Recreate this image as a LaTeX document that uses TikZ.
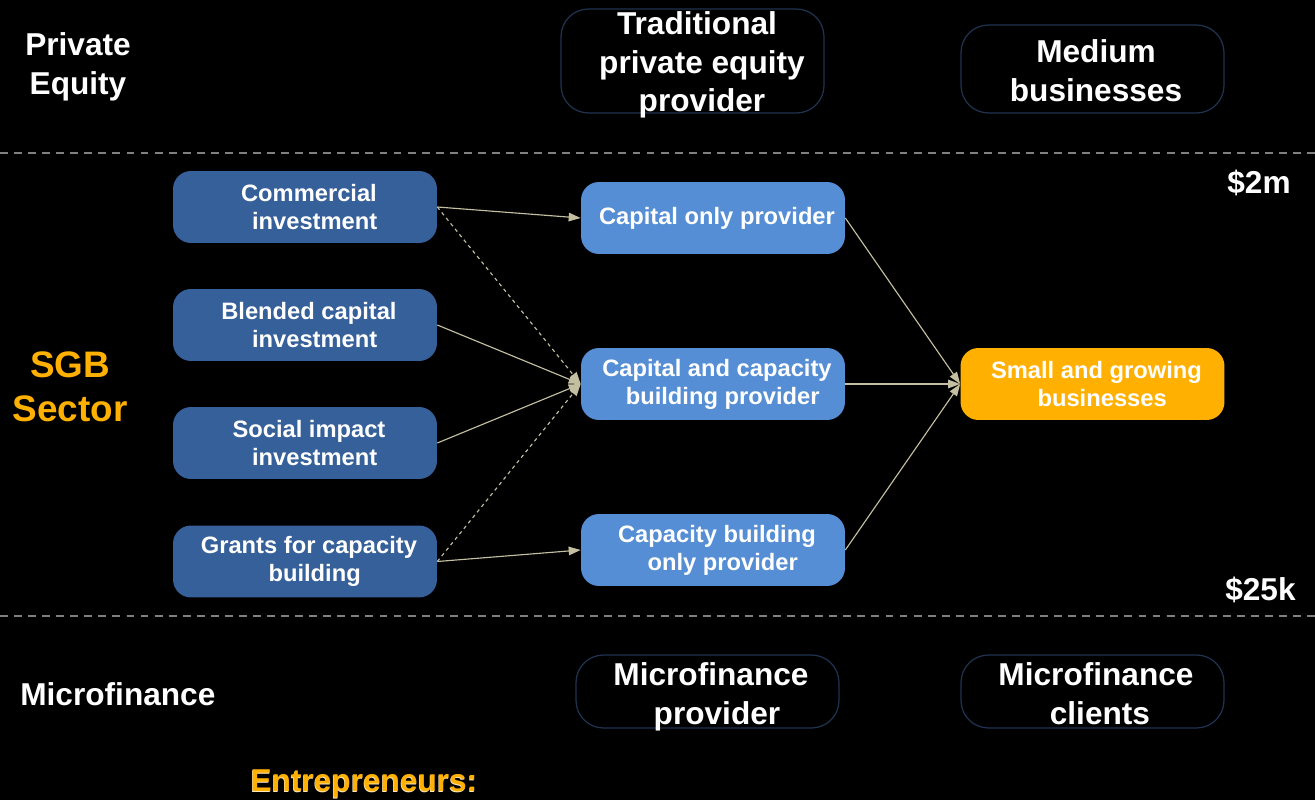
\documentclass[tikz,border=0pt]{standalone}
\usepackage{fontspec}
\setmainfont{Liberation Sans}
\usetikzlibrary{arrows.meta}
\definecolor{dblue}{HTML}{36609A}
\definecolor{lblue}{HTML}{558ED5}
\definecolor{sgbor}{HTML}{FFB000}
\definecolor{navy}{HTML}{1F3350}
\definecolor{khaki}{HTML}{C4BFA0}
\definecolor{dashgray}{HTML}{808080}
\newcommand\padA{\hspace*{4.5pt}}
\newcommand\padB{\hspace*{11pt}}
\newcommand\padC{\hspace*{5.7pt}}
\newcommand\padD{\hspace*{6.8pt}}
\begin{document}
\begin{tikzpicture}[x=0.02cm,y=-0.02cm,
 box/.style={rounded corners=0.36cm, minimum width=5.28cm, minimum height=1.44cm, inner sep=0pt, text=white, font=\bfseries\fontsize{13.5}{16}\selectfont, align=center},
 dbox/.style={box, fill=dblue},
 lbox/.style={box, fill=lblue},
 obox/.style={box, fill=sgbor},
 outbox/.style={draw=navy, line width=0.7pt, rounded corners=0.55cm, minimum width=5.26cm, inner sep=0pt},
 big/.style={text=white, font=\bfseries\fontsize{18}{22}\selectfont, align=center, inner sep=0pt},
 sgbtxt/.style={text=sgbor, font=\bfseries\fontsize{21}{25}\selectfont, align=center, inner sep=0pt},
 ent/.style={font=\bfseries\fontsize{18}{22}\selectfont, inner sep=0pt},
 link/.style={draw=khaki, line width=0.65pt, -{Triangle[length=0.24cm,width=0.17cm]}},
 dlink/.style={link, dash pattern=on 2pt off 2pt},
 sep/.style={draw=dashgray, line width=0.8pt, dash pattern=on 4.5pt off 3.5pt}]
\fill[black] (0,0) rectangle (1315,800);
\useasboundingbox (0,0) rectangle (1315,800);
% separators
\coordinate (s1a) at (0,153); \coordinate (s1b) at (1315,153);
\coordinate (s2a) at (0,616); \coordinate (s2b) at (1315,616);
\draw[sep] (s1a) -- (s1b);
\draw[sep] (s2a) -- (s2b);
% outlined boxes
\node[outbox, minimum height=2.08cm] (trad) at (692.5,61) {};
\node[big] (tradt) at (697,65) {Traditional\\\padC private equity\\\padC provider};
\node[outbox, minimum height=1.76cm] (med) at (1092.5,69) {};
\node[big] (medt) at (1096,71) {Medium\\businesses};
\node[outbox, minimum height=1.46cm] (mfp) at (707.5,691.5) {};
\node[big] (mfpt) at (711,696.5) {Microfinance\\\padD provider};
\node[outbox, minimum height=1.46cm] (mfc) at (1092.5,691.5) {};
\node[big] (mfct) at (1096,693.5) {Microfinance\\\padA clients};
% left labels
\node[big] (pe) at (78,67) {Private\\Equity};
\node[sgbtxt] (sgbl) at (70,387) {SGB\\Sector};
\node[big, anchor=west] (mf) at (20,694) {Microfinance};
\node[big, anchor=east] (m2) at (1291,183) {\$2m};
\node[big, anchor=east] (k25) at (1296,590) {\$25k};
\node[ent, text=white!75!sgbor] (entsh) at (363.5,785) {Entrepreneurs:};
\node[ent, text=sgbor] (ent) at (364,783.5) {Entrepreneurs:};
% boxes
\node[dbox] (ci) at (305,207) {\padA Commercial\\\padB investment};
\node[dbox] (bci) at (305,325) {\padA Blended capital\\\padB investment};
\node[dbox] (sii) at (305,443) {\padA Social impact\\\padB investment};
\node[dbox] (gcb) at (305,561.5) {\padA Grants for capacity\\\padB building};
\node[lbox] (cop) at (713,218) {\padA Capital only provider};
\node[lbox] (ccp) at (713,384) {\padA Capital and capacity\\\padB building provider};
\node[lbox] (cbp) at (713,550) {\padA Capacity building\\\padB only provider};
\node[obox] (sgb) at (1092.5,384) {\padA Small and growing\\\padB businesses};
% connectors
\draw[link] (ci.east) -- (cop.west);
\draw[dlink] (ci.east) -- (ccp.west);
\draw[link] (bci.east) -- (ccp.west);
\draw[link] (sii.east) -- (ccp.west);
\draw[dlink] (gcb.east) -- (ccp.west);
\draw[link] (gcb.east) -- (cbp.west);
\draw[link] (cop.east) -- (sgb.west);
\draw[link] (ccp.east) -- (sgb.west);
\draw[link] (cbp.east) -- (sgb.west);
\end{tikzpicture}
\end{document}
